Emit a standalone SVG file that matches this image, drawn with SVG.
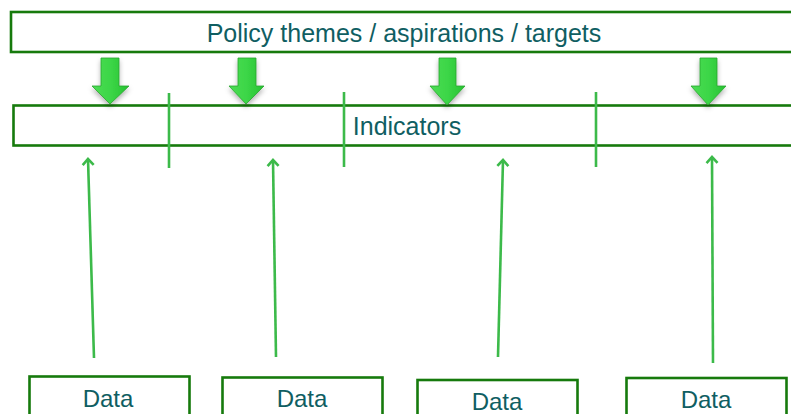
<svg xmlns="http://www.w3.org/2000/svg" width="791" height="414" viewBox="0 0 791 414">
<style>
.box{fill:#fff;stroke:#167a0c;stroke-width:2.6}
.lbl{font-family:"Liberation Sans",Arial,sans-serif;fill:#0f5e62;text-anchor:middle}
.div{stroke:#3cba4a;stroke-width:2.6;fill:none}
.up{stroke:#3cba4a;stroke-width:2.6;fill:none;marker-end:url(#ah)}
.blk{fill:url(#g);stroke:#2aa52e;stroke-width:0.8;filter:url(#sh)}
</style>
<defs>
<linearGradient id="g" x1="0" y1="0" x2="1" y2="0">
<stop offset="0" stop-color="#4ddc55"/>
<stop offset="0.5" stop-color="#3cd647"/>
<stop offset="1" stop-color="#27c232"/>
</linearGradient>
<filter id="sh" x="-30%" y="-30%" width="160%" height="170%">
<feDropShadow dx="0" dy="3" stdDeviation="2.5" flood-color="#000" flood-opacity="0.3"/>
</filter>
<marker id="ah" markerWidth="14" markerHeight="14" viewBox="-7 -7 14 14" refX="0" refY="0" orient="auto" markerUnits="userSpaceOnUse">
<path d="M-6,-5.5 L0,0 L-6,5.5" fill="none" stroke="#3cba4a" stroke-width="2.6"/>
</marker>
</defs>
<g id="policy">
<rect class="box" x="11" y="12" width="790" height="40"/>
<text class="lbl" x="404" y="42" font-size="25">Policy themes / aspirations / targets</text>
</g>
<g id="indicators">
<rect class="box" x="13.5" y="105.5" width="790" height="40"/>
<text class="lbl" x="407" y="135" font-size="25">Indicators</text>
</g>
<g id="data1">
<rect class="box" x="29.5" y="376.5" width="160" height="60"/>
<text class="lbl" x="108" y="406.5" font-size="24">Data</text>
</g>
<g id="data2">
<rect class="box" x="222.5" y="377.5" width="160" height="60"/>
<text class="lbl" x="302" y="406.5" font-size="24">Data</text>
</g>
<g id="data3">
<rect class="box" x="417.5" y="380" width="160" height="60"/>
<text class="lbl" x="497" y="409.5" font-size="24">Data</text>
</g>
<g id="data4">
<rect class="box" x="626.5" y="378" width="160" height="60"/>
<text class="lbl" x="706" y="407.5" font-size="24">Data</text>
</g>
<g id="connectors">
<path class="blk" d="M101,58 H119 V86 H129 L110,104 L92,86 H101 Z"/>
<path class="blk" d="M238,58 H256 V86 H264 L246,104 L229,86 H238 Z"/>
<path class="blk" d="M439,58 H456 V86 H465 L447,105 L430,86 H439 Z"/>
<path class="blk" d="M700,58 H717 V86 H726 L708,105 L691,86 H700 Z"/>
<line class="div" x1="169" y1="93" x2="169" y2="168"/>
<line class="div" x1="344" y1="92" x2="344" y2="167"/>
<line class="div" x1="596" y1="92" x2="596" y2="167"/>
<line class="up" x1="94" y1="358" x2="88" y2="159"/>
<line class="up" x1="276" y1="357" x2="273" y2="160"/>
<line class="up" x1="498" y1="357" x2="503" y2="160"/>
<line class="up" x1="713" y1="363" x2="712" y2="157"/>
</g>
</svg>
